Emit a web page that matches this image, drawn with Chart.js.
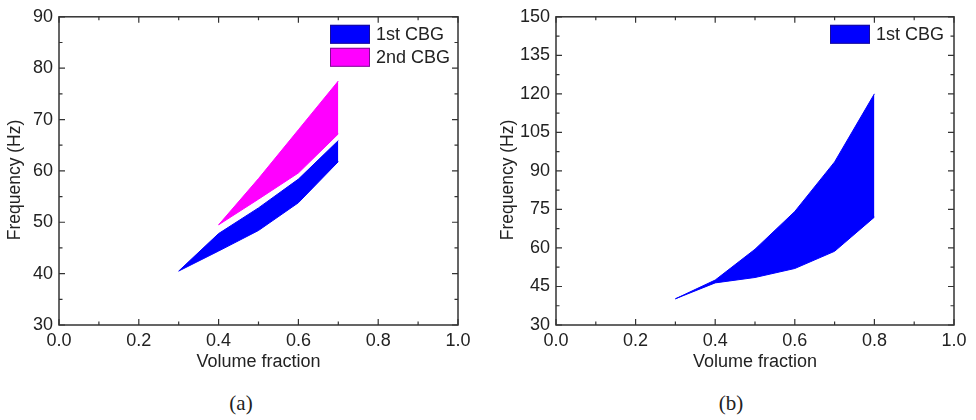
<!DOCTYPE html>
<html>
<head>
<meta charset="utf-8">
<script src="https://cdn.jsdelivr.net/npm/chart.js@4"></script>
<style>
  body { margin: 0; background: #fff; width: 976px; height: 420px; position: relative; overflow: hidden; }
  canvas { position: absolute; top: 0; }
  #chart-a { left: 0; }
  #chart-b { left: 488px; }
  .caption { position: absolute; top: 391px; font-family: "Liberation Serif", "DejaVu Serif", serif; font-size: 21px; color: #222; transform: translateX(-50%); }
</style>
</head>
<body>
<canvas id="chart-a" width="488" height="380"></canvas>
<canvas id="chart-b" width="488" height="380"></canvas>
<div class="caption" style="left:241px">(a)</div>
<div class="caption" style="left:731px">(b)</div>
<script>
// panel (a) data
var xA1 = [0.3, 0.4, 0.5, 0.6, 0.7];
var cbg1LowA = [40.5, 44.4, 48.4, 53.8, 61.8];
var cbg1HighA = [40.5, 47.8, 52.8, 58.4, 65.9];
var xA2 = [0.4, 0.5, 0.6, 0.7];
var cbg2LowA = [49.5, 54.5, 59.6, 67.2];
var cbg2HighA = [49.5, 58.5, 68.0, 77.5];

// panel (b) data
var xB = [0.3, 0.4, 0.5, 0.6, 0.7, 0.8];
var cbg1LowB = [40.2, 46.4, 48.5, 52.0, 58.7, 72.0];
var cbg1HighB = [40.2, 47.5, 59.5, 74.2, 93.5, 120.0];

// ticks
var xTicks = [0, 0.2, 0.4, 0.6, 0.8, 1.0];
var yTicksA = [30, 40, 50, 60, 70, 80, 90];
var yTicksB = [30, 45, 60, 75, 90, 105, 120, 135, 150];

var BLUE = "#0000ff";
var MAGENTA = "#ff00ff";
var FONT = "'Liberation Sans', Arial, sans-serif";

Chart.defaults.font.family = FONT;
Chart.defaults.color = "#222";

function pts(xs, ys) {
  return xs.map(function (x, i) { return { x: x, y: ys[i] }; });
}

function band(xs, low, high, color, label) {
  return [
    { label: label + " low", data: pts(xs, low), borderColor: color, borderWidth: 1, pointRadius: 0, fill: false },
    { label: label, data: pts(xs, high), borderColor: color, borderWidth: 1, pointRadius: 0, fill: "-1", backgroundColor: color },
  ];
}

// box frame with inward major + minor ticks on all four sides, legend, y title
var framePlugin = {
  id: "frame",
  afterDraw: function (chart) {
    var c = chart.ctx, a = chart.chartArea;
    var sx = chart.scales.x, sy = chart.scales.y;
    var opts = chart.options.plugins.frame;
    c.save();
    c.strokeStyle = "#333";
    c.lineWidth = 1.5;
    c.strokeRect(a.left, a.top, a.right - a.left, a.bottom - a.top);
    c.lineWidth = 1.2;
    function tickSet(vals) {
      var out = [];
      for (var i = 0; i < vals.length; i++) {
        out.push({ v: vals[i], len: 6 });
        if (i < vals.length - 1) out.push({ v: (vals[i] + vals[i + 1]) / 2, len: 3.5 });
      }
      return out;
    }
    c.beginPath();
    tickSet(sx.ticks.map(function (t) { return t.value; })).forEach(function (t) {
      var p = sx.getPixelForValue(t.v);
      c.moveTo(p, a.bottom); c.lineTo(p, a.bottom - t.len);
      c.moveTo(p, a.top); c.lineTo(p, a.top + t.len);
    });
    tickSet(sy.ticks.map(function (t) { return t.value; })).forEach(function (t) {
      var p = sy.getPixelForValue(t.v);
      c.moveTo(a.left, p); c.lineTo(a.left + t.len, p);
      c.moveTo(a.right, p); c.lineTo(a.right - t.len, p);
    });
    c.stroke();

    // y axis title
    c.save();
    c.translate(opts.yTitleX, 180);
    c.rotate(-Math.PI / 2);
    c.fillStyle = "#222";
    c.font = "17.5px " + FONT;
    c.textAlign = "center";
    c.textBaseline = "middle";
    c.fillText("Frequency (Hz)", 0, 0);
    c.restore();

    // legend inside the plot, top right
    var items = chart.data.datasets.filter(function (d) { return d.fill === "-1"; });
    var x0 = a.right - opts.legendOffset;
    items.forEach(function (d, i) {
      var y0 = a.top + 8 + i * 23;
      c.fillStyle = d.backgroundColor;
      c.fillRect(x0, y0, 40, 19);
      c.strokeStyle = "rgba(40,20,80,0.6)";
      c.lineWidth = 1;
      c.strokeRect(x0 + 0.5, y0 + 0.5, 39, 18);
      c.fillStyle = "#222";
      c.font = "18px " + FONT;
      c.textBaseline = "middle";
      c.textAlign = "left";
      c.fillText(d.label, x0 + 46, y0 + 10);
    });
    c.restore();
  },
};

function makeOptions(yMin, yMax, yTicks, padRight, yWidth, legendOffset, yTitleX) {
  return {
    responsive: false,
    animation: false,
    layout: { padding: { top: 11, right: padRight, left: 0, bottom: 0 } },
    plugins: {
      legend: { display: false },
      tooltip: { enabled: false },
      frame: { legendOffset: legendOffset, yTitleX: yTitleX },
    },
    scales: {
      x: {
        type: "linear",
        min: 0,
        max: 1,
        grid: { display: false, drawTicks: false },
        border: { display: false },
        afterBuildTicks: function (s) { s.ticks = xTicks.map(function (v) { return { value: v }; }); },
        afterFit: function (s) { s.height = 55; },
        ticks: {
          padding: 5,
          font: { size: 18 },
          callback: function (v) { return Number(v).toFixed(1); },
        },
        title: { display: true, text: "Volume fraction", font: { size: 18 }, padding: { top: 0, bottom: 7 } },
      },
      y: {
        min: yMin,
        max: yMax,
        grid: { display: false, drawTicks: false },
        border: { display: false },
        afterBuildTicks: function (s) { s.ticks = yTicks.map(function (v) { return { value: v }; }); },
        afterFit: function (s) { s.width = yWidth; },
        ticks: { padding: 6, font: { size: 18 } },
        title: { display: false },
      },
    },
  };
}

// Chart (a)
new Chart(document.getElementById("chart-a"), {
  type: "line",
  data: {
    datasets: band(xA1, cbg1LowA, cbg1HighA, BLUE, "1st CBG").concat(band(xA2, cbg2LowA, cbg2HighA, MAGENTA, "2nd CBG")),
  },
  options: makeOptions(30, 90, yTicksA, 30, 59, 128, 15),
  plugins: [framePlugin],
});

// Chart (b)
new Chart(document.getElementById("chart-b"), {
  type: "line",
  data: {
    datasets: band(xB, cbg1LowB, cbg1HighB, BLUE, "1st CBG"),
  },
  options: makeOptions(30, 150, yTicksB, 22, 68, 124, 20),
  plugins: [framePlugin],
});
</script>
</body>
</html>
